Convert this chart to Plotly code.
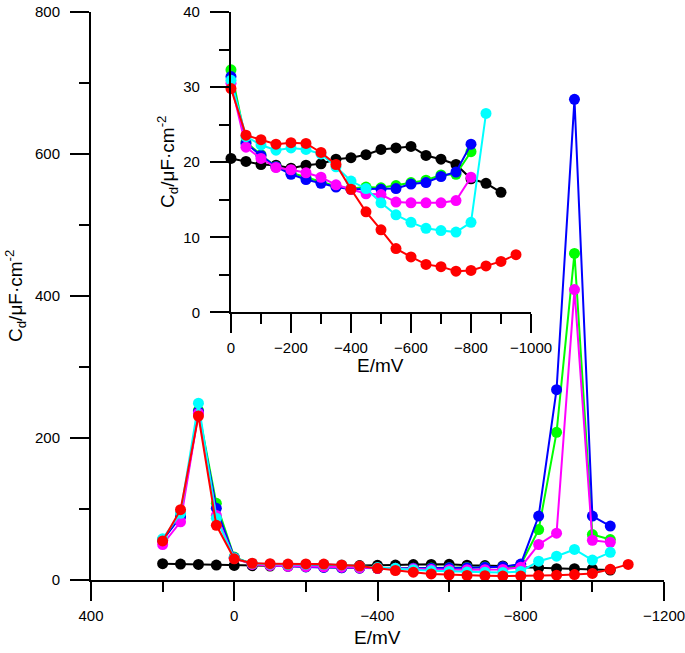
import plotly.graph_objects as go

# Potentials (mV)
E_full = [200, 150, 100, 50] + [-50 * i for i in range(0, 23)]  # 200 ... -1100

# Capacitance values (uF cm^-2)
black = [23, 22.5, 22, 21, 20.5, 20.1, 19.7, 19.6, 19.2, 19.6, 19.8, 20.4, 20.6, 21.0, 21.7, 21.9,
         22.1, 20.9, 20.4, 19.7, 17.8, 17.2, 16.0, 16, 15.5, 14]
green = [57, 90, 239, 108, 32.3, 22.7, 21.0, 19.4, 18.6, 18.0, 17.4, 16.8, 16.5, 16.7, 16.6, 16.9,
         17.3, 17.6, 18.3, 18.4, 21.4, 71, 208, 460, 64, 57]
blue = [56, 89, 237, 101, 31.4, 22.5, 20.9, 19.4, 18.4, 17.7, 17.2, 16.7, 16.4, 16.4, 16.4, 16.5,
        17.1, 17.3, 18.1, 18.7, 22.4, 90, 268, 677, 90, 76]
magenta = [50, 82, 235, 91, 30.5, 22.0, 20.5, 19.3, 19.0, 18.6, 18.0, 17.0, 16.4, 15.8, 15.7, 14.7,
           14.6, 14.6, 14.6, 14.9, 18.0, 50, 66, 409, 56, 53]
cyan = [58, 94, 249, 87, 30.9, 23.4, 22.3, 21.6, 21.9, 21.7, 21.1, 19.4, 17.5, 16.5, 14.6, 13.0,
        12.0, 11.2, 10.9, 10.7, 12.0, 26.5, 33.5, 43, 28, 39]
red = [55, 99, 231, 77, 29.8, 23.6, 23.0, 22.4, 22.6, 22.5, 21.3, 19.7, 16.4, 13.4, 11.0, 8.5,
       7.4, 6.4, 6.1, 5.5, 5.6, 6.2, 6.8, 7.7, 9.3, 15, 22]

# (values, colour, last potential shown in the inset)
series = [
    (black, "#000000", -900),
    (green, "#00FF00", -800),
    (blue, "#0000FF", -800),
    (magenta, "#FF00FF", -800),
    (cyan, "#00FFFF", -850),
    (red, "#FF0000", -950),
]

FONT = "Liberation Sans, Arial, sans-serif"
TICKF = dict(family=FONT, size=15, color="black")
TITLEF = dict(family=FONT, size=19, color="black")
fig = go.Figure()

for vals, col, inset_end in series:
    xs = E_full[:len(vals)]
    fig.add_trace(go.Scatter(x=xs, y=vals, mode="lines+markers",
                             line=dict(color=col, width=2),
                             marker=dict(color=col, size=11),
                             xaxis="x", yaxis="y", showlegend=False, cliponaxis=False))
    xi = [e for e in xs if inset_end <= e <= 0]
    yi = [v for e, v in zip(xs, vals) if inset_end <= e <= 0]
    fig.add_trace(go.Scatter(x=xi, y=yi, mode="lines+markers",
                             line=dict(color=col, width=2),
                             marker=dict(color=col, size=11),
                             xaxis="x2", yaxis="y2", showlegend=False, cliponaxis=False))

def axis(**kw):
    d = dict(showgrid=False, zeroline=False, showline=True, linecolor="black",
             linewidth=2, ticks="outside", tickcolor="black", tickwidth=2, ticklen=19,
             tickfont=TICKF, automargin=False, ticklabeloverflow="allow")
    d.update(kw)
    return d

def minor(dt):
    return dict(dtick=dt, ticklen=10, ticks="outside", tickcolor="black", tickwidth=2)

fig.update_layout(
    width=685, height=653,
    margin=dict(l=91, r=21, t=12, b=73),
    paper_bgcolor="white", plot_bgcolor="white",
    font=dict(family=FONT, color="black"),
    xaxis=axis(range=[400, -1200], tickvals=[400, 0, -400, -800, -1200], minor=minor(200),
               anchor="y", ticklabelstandoff=2),
    yaxis=axis(range=[0, 800], tickvals=[0, 200, 400, 600, 800], minor=minor(100), anchor="x",
               ticklabelstandoff=7),
    xaxis2=axis(domain=[0.2443, 0.7679], range=[0, -1000],
                tickvals=[0, -200, -400, -600, -800, -1000], minor=minor(100), anchor="y2",
                ticklabelstandoff=2),
    yaxis2=axis(domain=[0.471, 1.0], range=[0, 40], tickvals=[0, 10, 20, 30, 40],
                minor=minor(5), anchor="x2", ticklabelstandoff=7),
    annotations=[
        dict(text="E/mV", xref="paper", yref="paper", x=0.5, y=-0.1021, xanchor="center",
             yanchor="middle", showarrow=False, font=TITLEF),
        dict(text="C<sub>d</sub>/μF·cm<sup>-2</sup>", xref="paper", yref="paper",
             x=-0.1326, y=0.5, xanchor="center", yanchor="middle", textangle=-90,
             showarrow=False, font=TITLEF),
        dict(text="E/mV", xref="paper", yref="paper", x=0.5061, y=0.3768, xanchor="center",
             yanchor="middle", showarrow=False, font=TITLEF),
        dict(text="C<sub>d</sub>/μF·cm<sup>-2</sup>", xref="paper", yref="paper",
             x=0.1326, y=0.7359, xanchor="center", yanchor="middle", textangle=-90,
             showarrow=False, font=TITLEF),
    ],
)

fig.write_html("out.html", config={"displayModeBar": False},
               post_script="document.body.style.margin='0';document.body.style.overflow='hidden';")
